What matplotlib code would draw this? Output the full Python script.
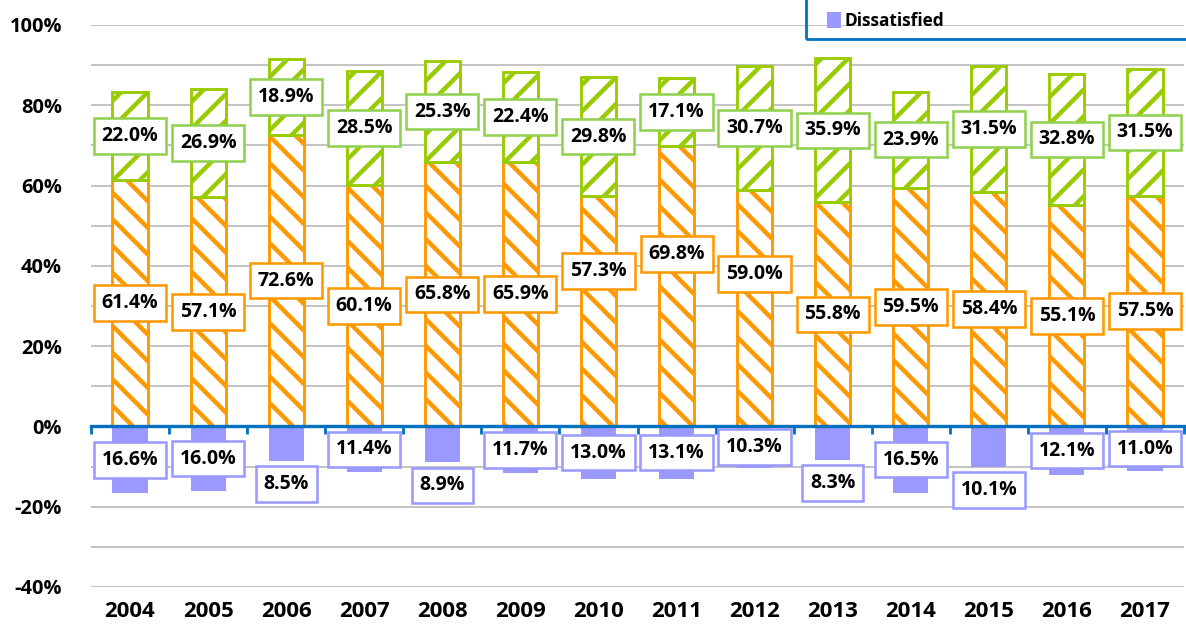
import matplotlib
matplotlib.use("Agg")
import matplotlib.pyplot as plt
from matplotlib.patches import Rectangle
import numpy as np

# survey results, share of respondents (%)
years = ['2004', '2005', '2006', '2007', '2008', '2009', '2010',
         '2011', '2012', '2013', '2014', '2015', '2016', '2017']
very_satisfied = [22.0, 26.9, 18.9, 28.5, 25.3, 22.4, 29.8,
                  17.1, 30.7, 35.9, 23.9, 31.5, 32.8, 31.5]
satisfied = [61.4, 57.1, 72.6, 60.1, 65.8, 65.9, 57.3,
             69.8, 59.0, 55.8, 59.5, 58.4, 55.1, 57.5]
dissatisfied = [16.6, 16.0, 8.5, 11.4, 8.9, 11.7, 13.0,
                13.1, 10.3, 8.3, 16.5, 10.1, 12.1, 11.0]
legend_name = 'Dissatisfied'

# label placement tweaks (moved by hand in the original)
orange_label_shift = [0, 0, 0, 0, 0, 0, 10, 8, 8.5, 0, 0, 0, 0, 0]
purple_label_below = [False, False, True, False, True, False, False,
                      False, False, True, False, True, False, False]

green = '#99CC00'
green_box = '#92D050'
orange = '#FF9900'
purple = '#9999FF'
blue = '#0070C0'
grid_grey = '#B4B4B4'

plt.rcParams['font.family'] = ['Open Sans', 'DejaVu Sans']
plt.rcParams['font.weight'] = 'bold'
plt.rcParams['hatch.linewidth'] = 4.0

W, H, DPI = 1186, 632, 80
fig = plt.figure(figsize=(W / DPI, H / DPI), dpi=DPI)
ax = fig.add_axes([91 / W, 1 - 587 / H, (1184 - 91) / W, (587 - 25) / H])

x = np.arange(len(years))
bw = 0.45
sat = np.array(satisfied)
vsat = np.array(very_satisfied)
dis = np.array(dissatisfied)

ax.bar(x, sat, bw, color='white', edgecolor=orange, hatch='\\',
       linewidth=2.6, zorder=2)
ax.bar(x, vsat, bw, bottom=sat, color='white', edgecolor=green,
       hatch='/', linewidth=2.6, zorder=2)
b_purple = ax.bar(x, -dis, bw, color=purple, linewidth=0, zorder=2)

ax.set_xlim(-0.5, len(years) - 0.5)
ax.set_ylim(-40, 100)

# y axis: labels every 20, grid every 10
ax.set_yticks(np.arange(-40, 101, 20))
ax.set_yticks(np.arange(-40, 101, 10), minor=True)
ax.set_yticklabels([f'{v}%' for v in range(-40, 101, 20)], fontsize=18)
ax.tick_params(axis='y', which='both', length=0, pad=26)
ax.yaxis.grid(True, which='both', color=grid_grey, linewidth=1.4)
ax.set_axisbelow(True)

# zero line with category separators
for s in ['top', 'left', 'right']:
    ax.spines[s].set_visible(False)
ax.spines['bottom'].set_position(('data', 0))
ax.spines['bottom'].set_color(blue)
ax.spines['bottom'].set_linewidth(3)
ax.spines['bottom'].set_zorder(4)
ax.set_xticks(np.arange(len(years) + 1) - 0.5)
ax.set_xticklabels([])
ax.tick_params(axis='x', length=7, width=2.5, color=blue, direction='out')

sec = ax.secondary_xaxis(0.0)
sec.set_xticks(x)
sec.set_xticklabels(years, fontsize=20)
sec.tick_params(length=0, pad=13)
sec.spines['bottom'].set_visible(False)


def box_label(xp, yp, val, ec):
    ax.text(xp, yp, f'{val:.1f}%', ha='center', va='center', fontsize=17.5,
            fontweight='bold', zorder=6,
            bbox=dict(boxstyle='square,pad=0.4', fc='white', ec=ec, lw=2.3))


for i in range(len(years)):
    box_label(x[i], sat[i] + vsat[i] / 2, vsat[i], green_box)
    box_label(x[i], sat[i] / 2 + orange_label_shift[i], sat[i], orange)
    if purple_label_below[i]:
        box_label(x[i], -dis[i] - 5.8, dis[i], purple)
    else:
        box_label(x[i], -dis[i] / 2, dis[i], purple)

# legend: only the last entry shows, the box runs off the top edge
fig.patches.append(Rectangle((806 / W, 1 - 39 / H), 0.4, 0.2,
                             transform=fig.transFigure, fill=False,
                             edgecolor=blue, linewidth=2.5, clip_on=False))
fig.legend([b_purple], [legend_name], loc='center left',
           bbox_to_anchor=(827 / W, 1 - 21 / H), fontsize=15.5,
           frameon=False, borderpad=0, borderaxespad=0,
           handlelength=0.8, handleheight=1.0, handletextpad=0.2)

fig.savefig('out.png', dpi=DPI)
